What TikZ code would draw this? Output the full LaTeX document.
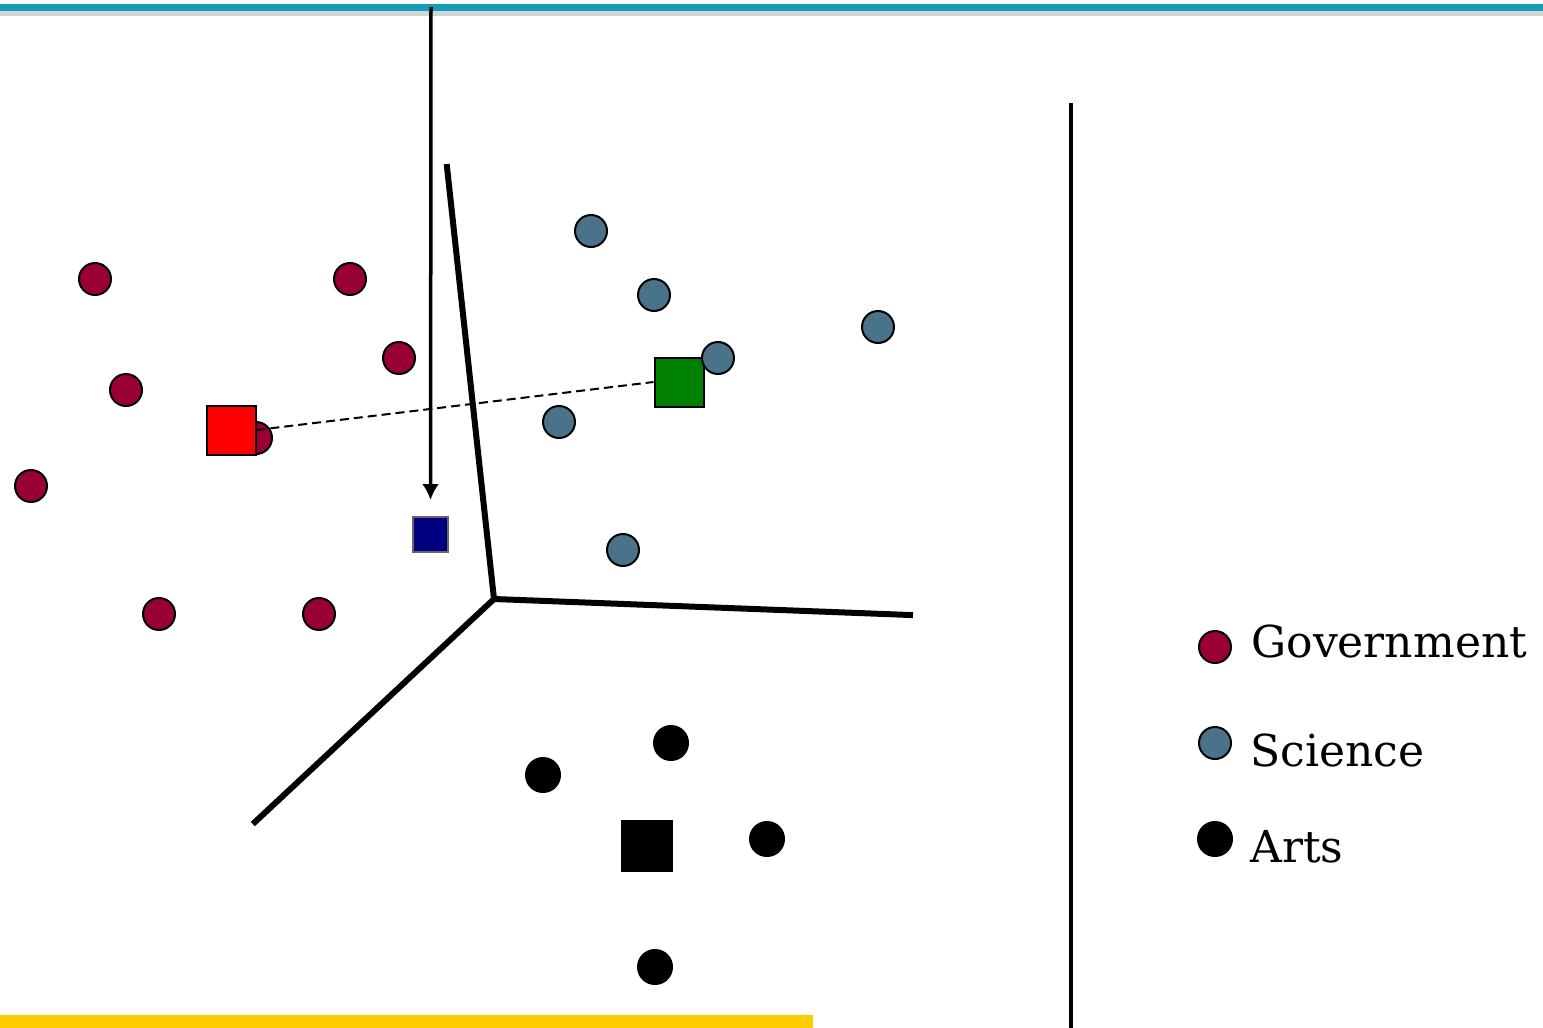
\documentclass[tikz,border=0pt]{standalone}
\usepackage{fontspec}
\setmainfont{DejaVu Serif}
\usetikzlibrary{arrows.meta,positioning}
\definecolor{GovRed}{HTML}{990033}
\definecolor{SciBlue}{HTML}{4A7288}
\definecolor{BarTeal}{HTML}{139DB8}
\definecolor{BarGrey}{HTML}{D4D4D4}
\definecolor{BarYellow}{HTML}{FFCC00}
\definecolor{QueryBlue}{HTML}{000080}
\definecolor{CentGreen}{HTML}{008000}
\tikzset{
  >={Latex[length=8pt,width=8.5pt]},
  pt/.style={circle, draw=black, line width=1pt, inner sep=0pt, minimum size=16pt},
  govpt/.style={pt, fill=GovRed},
  scipt/.style={pt, fill=SciBlue},
  artpt/.style={pt, fill=black, minimum size=17pt},
  centroid/.style={rectangle, draw=black, line width=1pt, inner sep=0pt, minimum size=24.5pt},
  border/.style={line width=3pt, line cap=rect},
  legtext/.style={anchor=base west, inner sep=0pt, font=\fontsize{22}{26}\selectfont}
}
\begin{document}
\begin{tikzpicture}[x=0.5pt, y=-0.5pt]
\useasboundingbox (0,0) rectangle (1543,1028);

% frame bars
\fill[BarTeal] (0,3.5) rectangle (1543,11);
\fill[BarGrey] (0,11) rectangle (1543,16);
\fill[BarYellow] (0,1015) rectangle (813,1028);
\draw[line width=2.25pt] (1071,103) -- (1071,1028);

% class boundaries
\coordinate (meet) at (494,599);
\draw[border] (447,167) -- (meet);
\draw[border] (meet) -- (910,615);
\draw[border] (meet) -- (255,822);

% government
\node[govpt] (g1) at (95,279) {};
\node[govpt] (g2) at (350,279) {};
\node[govpt] (g3) at (399,358) {};
\node[govpt] (g4) at (126,390) {};
\node[govpt] (g5) at (256,438) {};
\node[govpt] (g6) at (31,486) {};
\node[govpt] (g7) at (159,614) {};
\node[govpt] (g8) at (319,614) {};

% science
\node[centroid, fill=CentGreen] (scicent) at (679,382) {};
\node[scipt] (s1) at (591,231) {};
\node[scipt] (s2) at (654,295) {};
\node[scipt] (s3) at (878,327) {};
\node[scipt] (s4) at (718,358) {};
\node[scipt] (s5) at (559,422) {};
\node[scipt] (s6) at (623,550) {};

% arts
\node[artpt] (a1) at (671,743) {};
\node[artpt] (a2) at (543,775) {};
\node[artpt] (a3) at (767,839) {};
\node[artpt] (a4) at (655,967) {};
\node[centroid, fill=black, minimum size=25pt] (artcent) at (647,846) {};

\node[centroid, fill=red] (govcent) at (231,430) {};

% query point
\node[centroid, fill=QueryBlue, draw=black!60, minimum size=17.5pt] (query) at (430.5,534.5) {};
\coordinate (drop) at (431,7);
\draw[->, line width=1.75pt, shorten >=8pt] (drop) -- (query);
\draw[dash pattern=on 4.5pt off 2.5pt, line width=1pt] (govcent.east) -- (scicent.west);

% legend
\node[govpt] (leggov) at (1215,647) {};
\node[scipt] (legsci) at (1215,743) {};
\node[artpt] (legart) at (1215,839) {};
\node[legtext] (govlabel) at (1251,657) {Government};
\node[legtext] (scilabel) at (1250,766) {Science};
\node[legtext] (artlabel) at (1250,862) {Arts};

\end{tikzpicture}
\end{document}
